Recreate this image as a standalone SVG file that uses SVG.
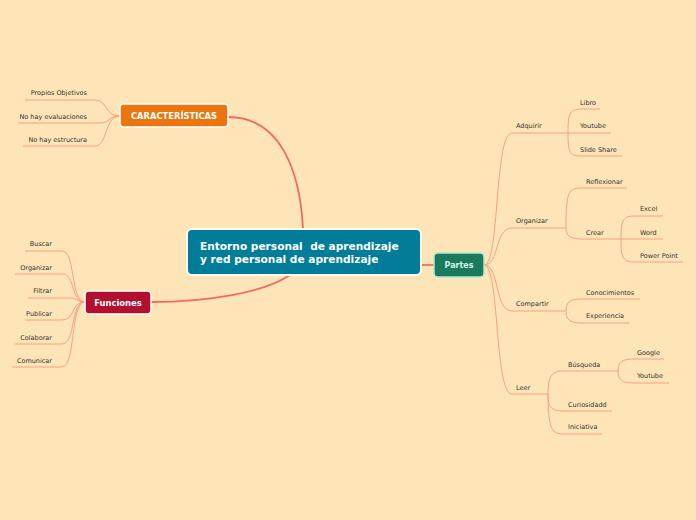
<svg xmlns="http://www.w3.org/2000/svg" width="696" height="520" viewBox="0 0 696 520">
<style>
.t{font-family:"DejaVu Sans",Verdana,sans-serif;font-size:6.5px;fill:#333}
.b{font-family:"DejaVu Sans",Verdana,sans-serif;font-weight:bold;fill:#fff}
.main{fill:none;stroke:#F26B63;stroke-width:1.8}
.sub{fill:none;stroke:#F7A088;stroke-width:1}
</style>
<rect width="696" height="520" fill="#FEE5B7"/>
<g id="connectors">
<path class="main" d="M228,117 C280,117 300,170 303,229"/>
<path class="main" d="M151,302 C210,302 265,292 290,275"/>
<path class="main" d="M421,265 L434,265"/>
<!-- caracteristicas -->
<path class="sub" d="M120,116 C104,116 108,100 95,100 L25,100"/>
<path class="sub" d="M120,116 C108,116 110,123 100,123 L18,123"/>
<path class="sub" d="M120,116 C104,116 108,146 95,146 L23,146"/>
<!-- funciones -->
<path class="sub" d="M85,302 C70,302 76,251 62,251 L25,251"/>
<path class="sub" d="M85,302 C70,302 76,274 62,274 L15,274"/>
<path class="sub" d="M85,302 C76,302 78,298 70,298 L28,298"/>
<path class="sub" d="M85,302 C70,302 76,320 62,320 L25,320"/>
<path class="sub" d="M85,302 C70,302 76,344 62,344 L15,344"/>
<path class="sub" d="M85,302 C70,302 76,367 62,367 L12,367"/>
<!-- partes -->
<path class="sub" d="M484,265 C500,265 494,133 512,133 L568,133"/>
<path class="sub" d="M484,265 C500,265 494,228 512,228 L566,228"/>
<path class="sub" d="M484,265 C500,265 494,311 512,311 L566,311"/>
<path class="sub" d="M484,265 C500,265 494,394 512,394 L548,394"/>
<!-- adquirir -->
<path class="sub" d="M568,133 C568,112 570,109 582,109 L600,109"/>
<path class="sub" d="M568,133 L611,133"/>
<path class="sub" d="M568,133 C568,154 570,156 582,156 L622,156"/>
<!-- organizar -->
<path class="sub" d="M566,228 C566,192 568,188 582,188 L627,188"/>
<path class="sub" d="M566,228 C566,236 570,239 582,239 L621,239"/>
<path class="sub" d="M621,239 C621,219 623,216 636,216 L663,216"/>
<path class="sub" d="M621,239 L663,239"/>
<path class="sub" d="M621,239 C621,259 623,262 636,262 L683,262"/>
<!-- compartir -->
<path class="sub" d="M566,311 C566,302 570,299 582,299 L640,299"/>
<path class="sub" d="M566,311 C566,320 570,323 582,323 L629,323"/>
<!-- leer -->
<path class="sub" d="M548,394 C548,375 552,371 564,371 L618,371"/>
<path class="sub" d="M548,394 C548,408 552,411 564,411 L612,411"/>
<path class="sub" d="M548,394 C548,430 552,434 564,434 L602,434"/>
<path class="sub" d="M618,371 C618,362 622,359 634,359 L664,359"/>
<path class="sub" d="M618,371 C618,380 622,383 634,383 L669,383"/>
</g>
<g id="central">
<rect x="187" y="229" width="234" height="46" rx="5" fill="#017D9A" stroke="#fff" stroke-width="2"/>
<text class="b" font-size="10.6" x="200" y="250" xml:space="preserve">Entorno personal  de aprendizaje</text>
<text class="b" font-size="10.6" x="200" y="263">y red personal de aprendizaje</text>
</g>
<g id="caracteristicas">
<rect x="120" y="104" width="108" height="23" rx="4" fill="#EA760F" stroke="#fff" stroke-width="1.5"/>
<text class="b" font-size="8.4" x="174" y="119" text-anchor="middle">CARACTERÍSTICAS</text>
</g>
<g id="funciones">
<rect x="85" y="291" width="66" height="23" rx="4" fill="#B3102F" stroke="#fff" stroke-width="1.5"/>
<text class="b" font-size="8.4" x="118" y="306" text-anchor="middle">Funciones</text>
</g>
<g id="partes">
<rect x="434" y="253" width="50" height="24" rx="4" fill="#1B7A5E" stroke="#A8EBD2" stroke-width="1.5"/>
<text class="b" font-size="8" x="459" y="268" text-anchor="middle" style="fill:#D2F7E8">Partes</text>
</g>
<g id="c1"><text class="t" x="87" y="95" text-anchor="end">Propios Objetivos</text></g>
<g id="c2"><text class="t" x="87" y="119" text-anchor="end">No hay evaluaciones</text></g>
<g id="c3"><text class="t" x="87" y="142" text-anchor="end">No hay estructura</text></g>
<g id="f1"><text class="t" x="52" y="246" text-anchor="end">Buscar</text></g>
<g id="f2"><text class="t" x="52" y="270" text-anchor="end">Organizar</text></g>
<g id="f3"><text class="t" x="52" y="293" text-anchor="end">Filtrar</text></g>
<g id="f4"><text class="t" x="52" y="316" text-anchor="end">Publicar</text></g>
<g id="f5"><text class="t" x="52" y="340" text-anchor="end">Colaborar</text></g>
<g id="f6"><text class="t" x="52" y="363" text-anchor="end">Comunicar</text></g>
<g id="adquirir"><text class="t" x="516" y="128">Adquirir</text></g>
<g id="libro"><text class="t" x="580" y="105">Libro</text></g>
<g id="youtube1"><text class="t" x="580" y="128">Youtube</text></g>
<g id="slideshare"><text class="t" x="580" y="152">Slide Share</text></g>
<g id="organizar"><text class="t" x="516" y="223">Organizar</text></g>
<g id="reflexionar"><text class="t" x="586" y="184">Reflexionar</text></g>
<g id="crear"><text class="t" x="586" y="235">Crear</text></g>
<g id="excel"><text class="t" x="640" y="211">Excel</text></g>
<g id="word"><text class="t" x="640" y="235">Word</text></g>
<g id="powerpoint"><text class="t" x="640" y="258">Power Point</text></g>
<g id="compartir"><text class="t" x="516" y="306">Compartir</text></g>
<g id="conocimientos"><text class="t" x="586" y="295">Conocimientos</text></g>
<g id="experiencia"><text class="t" x="586" y="318">Experiencia</text></g>
<g id="leer"><text class="t" x="516" y="390">Leer</text></g>
<g id="busqueda"><text class="t" x="568" y="367">Búsqueda</text></g>
<g id="curiosidadd"><text class="t" x="568" y="407">Curiosidadd</text></g>
<g id="iniciativa"><text class="t" x="568" y="429">Iniciativa</text></g>
<g id="google"><text class="t" x="637" y="355">Google</text></g>
<g id="youtube2"><text class="t" x="637" y="378">Youtube</text></g>
</svg>
